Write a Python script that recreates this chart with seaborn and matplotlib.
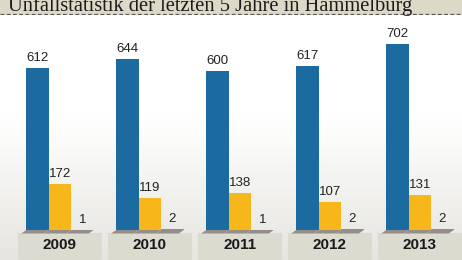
import numpy as np
import pandas as pd
import matplotlib
matplotlib.use("Agg")
import matplotlib.pyplot as plt
from matplotlib.patches import Rectangle, Polygon
from matplotlib.colors import LinearSegmentedColormap
import seaborn as sns

years = ["2009", "2010", "2011", "2012", "2013"]
unfaelle = [612, 644, 600, 617, 702]
verletzte = [172, 119, 138, 107, 131]
tote = [1, 2, 1, 2, 2]
series = ["Unfälle", "Verletzte", "Tote"]
colors = ["#1b6ba1", "#f7b71b", "#9c8a8a"]
title = "Unfallstatistik der letzten 5 Jahre in Hammelburg"

df = pd.DataFrame({
    "Jahr": years * 3,
    "Wert": unfaelle + verletzte + tote,
    "Serie": [series[0]] * 5 + [series[1]] * 5 + [series[2]] * 5,
})

sns.set_theme(style="white")
plt.rcParams["font.family"] = ["Liberation Sans Narrow", "Liberation Sans", "DejaVu Sans"]

W, H = 462, 260
fig = plt.figure(figsize=(W / 100, H / 100), dpi=100)
ax = fig.add_axes([0, 0, 1, 1])

pxy = 0.265  # pixels per unit
base_px = 230
ylo = -(H - base_px) / pxy
yhi = base_px / pxy
xlo = -60 / 90
xhi = (W - 60) / 90

# background gradient
grad = np.linspace(0, 1, 256).reshape(-1, 1)
cmap = LinearSegmentedColormap.from_list("bg", ["#e6e5e0", "#ffffff"])
ax.imshow(grad, extent=[xlo, xhi, ylo, yhi], origin="lower", aspect="auto",
          cmap=cmap, zorder=0, vmin=0.0, vmax=0.55)

sns.barplot(data=df, x="Jahr", y="Wert", hue="Serie", palette=colors,
            width=0.75, saturation=1, ax=ax, legend=False, zorder=3,
            linewidth=0, order=years, hue_order=series)

bars = [p for p in ax.patches if isinstance(p, Rectangle) and p.get_zorder() == 3]

# base blocks
for i in range(len(years)):
    ax.add_patch(Rectangle((i - 0.47, ylo), 0.94, (-3 / pxy) - ylo,
                           facecolor="#dcdbd0", edgecolor="none", zorder=1))
    ax.text(i, -15 / pxy, years[i], ha="center", va="center",
            fontsize=11, fontweight="bold", color="#1a1a1a",
            family=["Liberation Sans", "DejaVu Sans"], zorder=5)

# floor shadows and value labels
dx = 5 / 90
dy = 3.5 / pxy
for p in bars:
    x, w, h = p.get_x(), p.get_width(), p.get_height()
    ax.add_patch(Polygon([(x, 0), (x + w, 0), (x + w - dx, -dy), (x - dx, -dy)],
                         closed=True, facecolor="#958d8a", edgecolor="none", zorder=2))
    ax.text(x + w / 2, h + 4 / pxy, f"{int(round(h))}", ha="center", va="bottom",
            fontsize=9.5, color="#222222", zorder=5)

ax.set_xlim(xlo, xhi)
ax.set_ylim(ylo, yhi)
ax.axis("off")

# title band
band_h = 14.5
ax_t = fig.add_axes([0, 1 - band_h / H, 1, band_h / H])
ax_t.set_xlim(0, W)
ax_t.set_ylim(band_h, 0)
ax_t.add_patch(Rectangle((0, 0), W, band_h, facecolor="#dcd9c8", edgecolor="none"))
ax_t.plot([0, W], [band_h - 0.7, band_h - 0.7], color="#555555", lw=0.9,
          linestyle=(0, (3, 2)))
ax_t.text(8, 11, title, ha="left", va="baseline", fontsize=14.8,
          family=["Liberation Serif", "DejaVu Serif"], color="#1a1a1a", clip_on=False)
ax_t.axis("off")

fig.savefig("out.png", dpi=100)
